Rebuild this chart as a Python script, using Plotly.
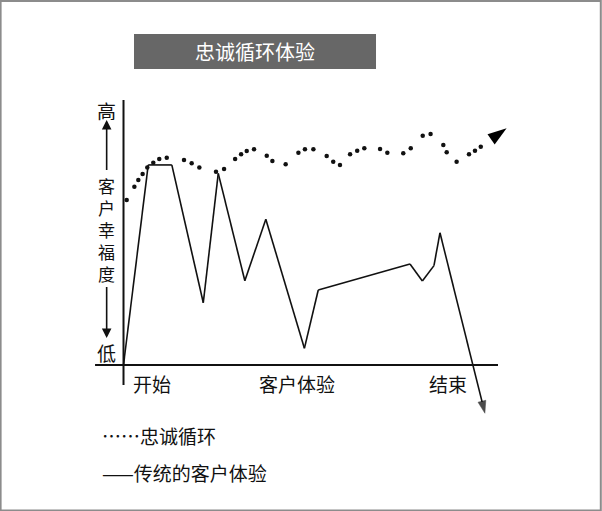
import plotly.graph_objects as go

# ---- data (x: time along the customer journey, y: customer happiness 0-100) ----
loyalty_x = [0.85, 2.9, 3.95, 5.1, 6.35, 7.95, 9.55, 11.55, 16.15, 18.2, 20.25, 24.7, 26.85,
             29.8, 31.4, 32.9, 34.85, 38.25, 39.75, 43.3, 46.7, 48.45, 50.7, 54.25, 56.0,
             57.8, 60.5, 62.4, 64.3, 68.5, 70.45, 74.7, 76.7, 79.9, 82.0, 85.4, 86.3, 88.95,
             92.25, 93.85, 95.4]
loyalty_y = [62.3, 67.3, 69.8, 72.1, 74.5, 76.3, 77.7, 78.2, 77.4, 76.1, 74.5, 72.9, 74.0,
             77.7, 79.5, 80.8, 81.4, 79.0, 77.0, 75.8, 80.1, 81.4, 81.4, 78.9, 76.7,
             75.5, 79.5, 80.9, 81.8, 81.5, 80.1, 79.9, 81.8, 86.5, 87.2, 83.0, 80.3, 76.7,
             79.5, 80.9, 82.4]
loyalty_tip = (102.3, 89.3)

traditional_x = [0, 6.6, 12.9, 21.3, 25.3, 32.4, 38.0, 48.3, 52.0, 76.5, 79.8, 82.9, 84.5, 96.5]
traditional_y = [0, 75.5, 75.5, 23.5, 72.3, 31.8, 55.0, 6.3, 28.3, 38.1, 31.7, 37.5, 49.9, -18.2]

x_labels = ["开始", "客户体验", "结束"]
x_label_pos = [7.6, 46.3, 86.6]
y_label_top = "高"
y_label_bottom = "低"
y_title_chars = ["客", "户", "幸", "福", "度"]
title_text = "忠诚循环体验"
legend_labels = ["……忠诚循环", "——传统的客户体验"]

FONT = "Noto Sans CJK SC"
INK = "#111111"

fig = go.Figure()

# loyalty loop (dotted)
fig.add_trace(go.Scatter(x=loyalty_x, y=loyalty_y, mode="markers",
                         marker=dict(size=4.5, color=INK), hoverinfo="skip"))
fig.add_trace(go.Scatter(x=[loyalty_x[-1], loyalty_tip[0]], y=[loyalty_y[-1], loyalty_tip[1]],
                         mode="lines+markers", line=dict(color="rgba(0,0,0,0)", width=1),
                         marker=dict(symbol=["circle", "arrow"], size=[0, 20], color="#000000",
                                     angleref="previous", line=dict(width=0), opacity=1),
                         hoverinfo="skip"))

# traditional experience (solid)
fig.add_trace(go.Scatter(x=traditional_x, y=traditional_y, mode="lines+markers",
                         line=dict(color=INK, width=1.6),
                         marker=dict(symbol=["circle"] * (len(traditional_x) - 1) + ["arrow"],
                                     size=[0] * (len(traditional_x) - 1) + [13],
                                     color="#000000", angleref="previous",
                                     line=dict(width=0.5, color="#000000")),
                         hoverinfo="skip"))

shapes = [
    # axes
    dict(type="line", xref="x", yref="y", x0=0, x1=0, y0=-7.5, y1=100,
         line=dict(color=INK, width=2)),
    dict(type="line", xref="x", yref="y", x0=-7.6, x1=100, y0=0, y1=0,
         line=dict(color=INK, width=2)),
    # title box
    dict(type="rect", xref="paper", yref="paper", x0=0.2226, x1=0.6246, y0=0.865, y1=0.9335,
         fillcolor="#676767", line=dict(width=0), layer="below"),
    # frame
    dict(type="rect", xref="paper", yref="paper", x0=0.001, x1=0.998, y0=0.001, y1=0.998,
         line=dict(color="#8c8c8c", width=2)),
]

annotations = [
    dict(text=title_text, xref="paper", yref="paper", x=0.4236, y=0.899, showarrow=False,
         xanchor="center", yanchor="middle",
         font=dict(family=FONT, size=20, color="white")),
    dict(text=y_label_top, xref="x", yref="y", x=-4.5, y=96.0, showarrow=False,
         xanchor="center", yanchor="middle",
         font=dict(family=FONT, size=19, color=INK)),
    dict(text=y_label_bottom, xref="x", yref="y", x=-4.5, y=4.9, showarrow=False,
         xanchor="center", yanchor="middle",
         font=dict(family=FONT, size=19, color=INK)),
    dict(text="<br>".join(y_title_chars), xref="x", yref="y", x=-4.5, y=51.0, showarrow=False,
         xanchor="center", yanchor="middle",
         font=dict(family=FONT, size=17, color=INK)),
    # label arrows
    dict(text="", xref="x", yref="y", axref="x", ayref="y", x=-4.5, y=92.5, ax=-4.5, ay=73.0,
         showarrow=True, arrowhead=2, arrowsize=1.2, arrowwidth=1.6, arrowcolor=INK),
    dict(text="", xref="x", yref="y", axref="x", ayref="y", x=-4.5, y=10.2, ax=-4.5, ay=30.0,
         showarrow=True, arrowhead=2, arrowsize=1.2, arrowwidth=1.6, arrowcolor=INK),
]
for lab, xx in zip(x_labels, x_label_pos):
    annotations.append(dict(text=lab, xref="x", yref="y", x=xx, y=-6.8, showarrow=False,
                            xanchor="center", yanchor="middle",
                            font=dict(family=FONT, size=19, color=INK)))
for lab, yy in zip(legend_labels, [0.1487, 0.0763]):
    annotations.append(dict(text=lab, xref="paper", yref="paper", x=0.166, y=yy,
                            xanchor="left", yanchor="middle", showarrow=False,
                            font=dict(family=FONT, size=19, color=INK)))

fig.update_layout(
    width=602, height=511,
    margin=dict(l=0, r=0, t=0, b=0),
    paper_bgcolor="white", plot_bgcolor="white",
    showlegend=False,
    xaxis=dict(range=[-32.98, 127.77], visible=False, fixedrange=True),
    yaxis=dict(range=[-55.09, 137.74], visible=False, fixedrange=True),
    shapes=shapes, annotations=annotations,
)

fig.write_html("out.html", config={"displayModeBar": False},
               post_script="document.body.style.margin='0';document.body.style.overflow='hidden';")
